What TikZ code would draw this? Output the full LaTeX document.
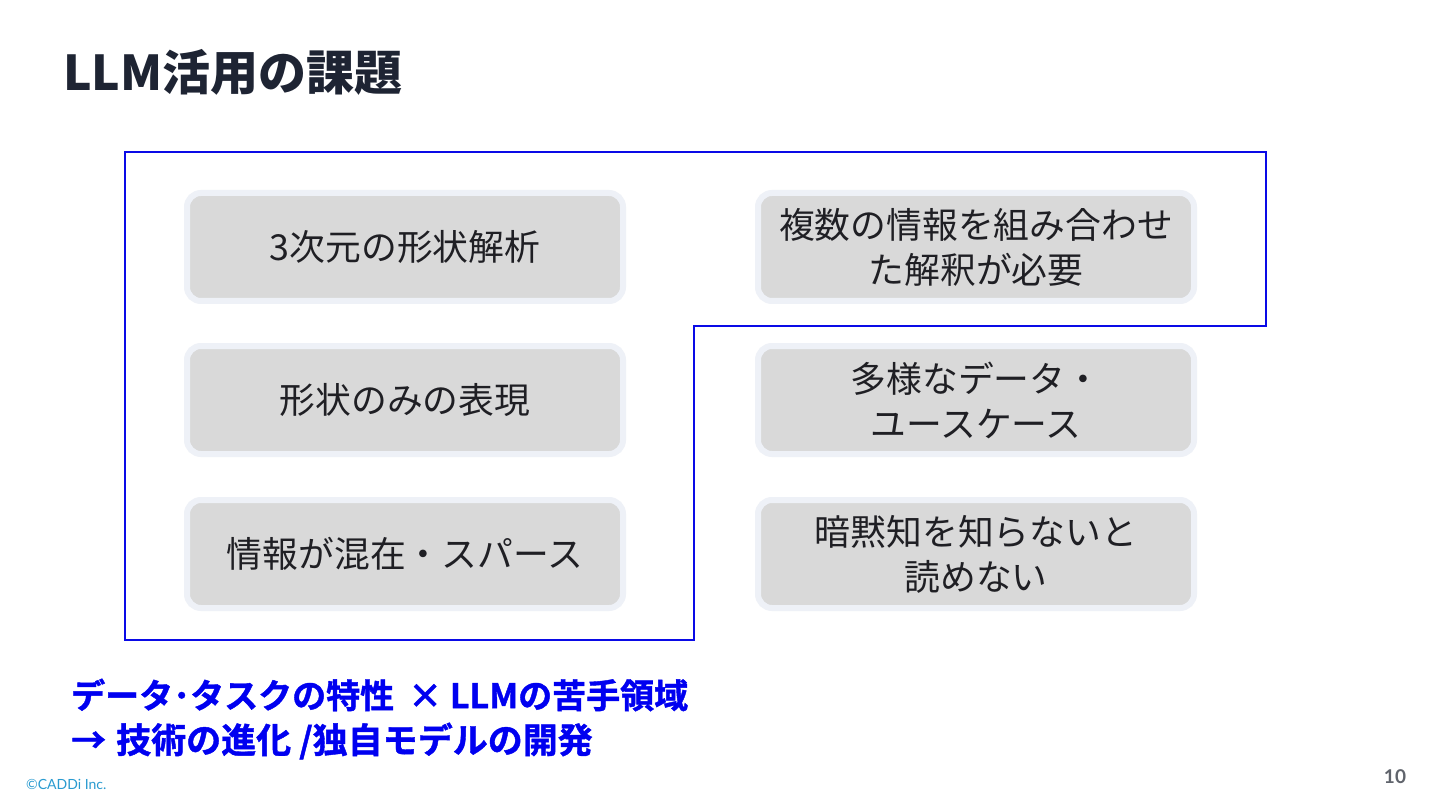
\documentclass[tikz,border=0pt]{standalone}
\usepackage{fontspec}
\setmainfont{Noto Sans CJK JP}
\newfontfamily\lato{Lato}
\newfontfamily\notebold[FakeBold=1.2]{Noto Sans CJK JP Bold}
\definecolor{titlec}{HTML}{1E2433}
\definecolor{boxfill}{HTML}{D9D9D9}
\definecolor{boxrim}{HTML}{EEF1F7}
\definecolor{txt}{HTML}{1F1F24}
\definecolor{frame}{HTML}{0A0AE6}
\definecolor{note}{HTML}{0000F0}
\definecolor{copyc}{HTML}{2A9BD0}
\definecolor{pagec}{HTML}{60646C}
\tikzset{
  card/.style={draw=boxrim, line width=6pt, fill=boxfill, rounded corners=14pt,
    minimum width=436pt, minimum height=108pt, align=center, text=txt,
    font=\fontsize{35.8}{45}\selectfont, inner sep=0pt},
  notetext/.style={anchor=west, text=note, inner sep=0pt, font=\notebold\fontsize{35}{40}\selectfont}
}
\begin{document}
\begin{tikzpicture}[x=1pt,y=-1pt]
\useasboundingbox[fill=white] (0,0) rectangle (1440,810);
\node[anchor=west, inner sep=0pt, text=titlec, font=\fontsize{48}{52}\selectfont\bfseries] (title) at (63,72) {LLM活用の課題};
\draw[frame, line width=1.8pt] (125,152) -- (1266,152) -- (1266,326) -- (694,326) -- (694,640) -- (125,640) -- cycle;
\node[card] (a1) at (405,247) {3次元の形状解析};
\node[card] (a2) at (405,400) {形状のみの表現};
\node[card] (a3) at (405,554) {情報が混在・スパース};
\node[card] (b1) at (976,247) {複数の情報を組み合わせ\\た解釈が必要};
\node[card] (b2) at (976,400) {多様なデータ・\\ユースケース};
\node[card] (b3) at (976,554) {暗黙知を知らないと\\読めない};
\node[notetext, font=\notebold\fontsize{34}{40}\selectfont] (n1) at (71,695) {データ･タスクの特性\hspace{14pt}× LLMの苦手領域};
\node[notetext] (n2) at (71,741) {→\hspace{10pt}技術の進化\hspace{8pt}/独自モデルの開発};
\node[anchor=west, inner sep=0pt, text=copyc, font=\lato\fontsize{14}{16}\selectfont] (copy) at (26,784) {©CADDi Inc.};
\node[inner sep=0pt, text=pagec, font=\lato\bfseries\fontsize{19}{21}\selectfont] (page) at (1395,777) {10};
\end{tikzpicture}
\end{document}
